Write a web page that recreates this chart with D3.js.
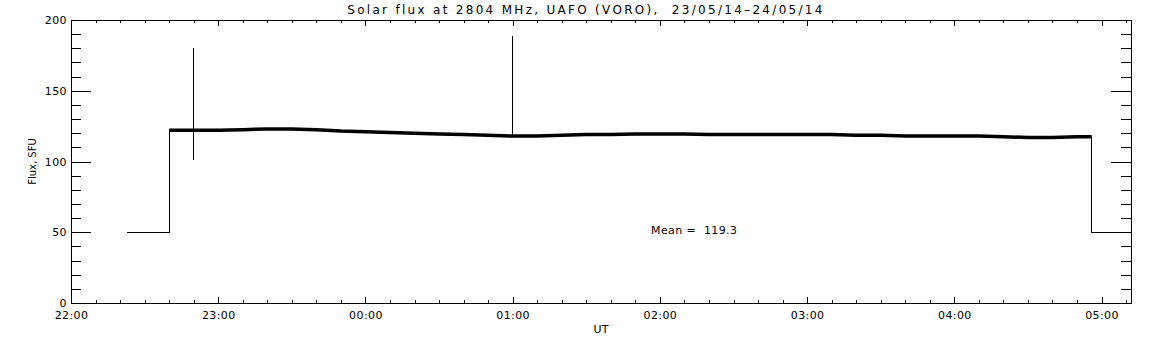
<!DOCTYPE html>
<html lang="en">
<head>
    <meta charset="UTF-8">
    <title>Solar flux at 2804 MHz</title>
    <script src="https://cdn.jsdelivr.net/npm/d3@7/dist/d3.min.js"></script>
    <style>
        body { margin: 0; background: #fff; }
        text { font-family: 'DejaVu Sans', sans-serif; font-size: 11px; fill: #000; white-space: pre; }
    </style>
</head>
<body>
<script type="application/javascript">
    // flux readings (SFU), every 10 min
    const times = ['22:40', '22:50', '23:00', '23:10', '23:20', '23:30', '23:40', '23:50',
        '00:00', '00:10', '00:20', '00:30', '00:40', '00:50', '01:00', '01:10', '01:20',
        '01:30', '01:40', '01:50', '02:00', '02:10', '02:20', '02:30', '02:40', '02:50',
        '03:00', '03:10', '03:20', '03:30', '03:40', '03:50', '04:00', '04:10', '04:20',
        '04:30', '04:40', '04:50', '04:56'];
    const flux = [122, 122, 122, 122.5, 123, 123, 122.5, 121.5,
        121, 120.5, 120, 119.5, 119, 118.5, 118, 118, 118.5,
        119, 119, 119.5, 119.5, 119.5, 119, 119, 119, 119,
        119, 119, 118.5, 118.5, 118, 118, 118, 118, 117.5,
        117, 117, 117.5, 117.5];
    // level outside the observing window
    const offTimes = ['22:23', '22:40', '04:56', '05:12'];
    const offLevel = 50;
    // short bursts
    const spikeTimes = ['22:50', '01:00'];
    const spikeLow = [101, 118];
    const spikeHigh = [180, 189];

    const xTickLabels = ['22:00', '23:00', '00:00', '01:00', '02:00', '03:00', '04:00', '05:00'];
    const yTicks = [0, 50, 100, 150, 200];
    const meanValue = 119.3;

    const w = 1152, h = 345;
    const margin = {left: 71, right: 21, top: 20, bottom: 42};

    // minutes after 22:00
    const toMin = s => {
        let [hh, mm] = s.split(':').map(Number);
        if (hh < 22) hh += 24;
        return (hh - 22) * 60 + mm;
    };

    const svg = d3.select('body').append('svg')
        .attr('width', w)
        .attr('height', h);

    const xScale = d3.scaleLinear()
        .domain([0, toMin('05:12')])
        .range([margin.left, w - margin.right]);
    const yScale = d3.scaleLinear()
        .domain([0, 200])
        .range([h - margin.bottom, margin.top]);

    const majorX = xTickLabels.map(toMin);
    const minorX = d3.range(0, toMin('05:12') + 1, 10).filter(m => m % 60 !== 0);
    const minorY = d3.range(0, 201, 10).filter(v => v % 50 !== 0);

    const fmt = m => xTickLabels[majorX.indexOf(m)];

    const g = svg.append('g').attr('shape-rendering', 'crispEdges');

    // bottom axis
    g.append('g')
        .attr('transform', `translate(0,${yScale(0)})`)
        .call(d3.axisBottom(xScale).tickValues(majorX).tickFormat(fmt).tickSize(-6).tickPadding(8))
        .call(a => a.select('.domain').remove());
    g.append('g')
        .attr('transform', `translate(0,${yScale(0)})`)
        .call(d3.axisBottom(xScale).tickValues(minorX).tickFormat('').tickSize(-3))
        .call(a => a.select('.domain').remove());
    // top axis
    g.append('g')
        .attr('transform', `translate(0,${yScale(200)})`)
        .call(d3.axisTop(xScale).tickValues(majorX).tickFormat('').tickSize(-6))
        .call(a => a.select('.domain').remove());
    g.append('g')
        .attr('transform', `translate(0,${yScale(200)})`)
        .call(d3.axisTop(xScale).tickValues(minorX).tickFormat('').tickSize(-3))
        .call(a => a.select('.domain').remove());
    // left axis
    g.append('g')
        .attr('transform', `translate(${xScale.range()[0]},0)`)
        .call(d3.axisLeft(yScale).tickValues(yTicks).tickSize(-20).tickPadding(4))
        .call(a => a.select('.domain').remove());
    g.append('g')
        .attr('transform', `translate(${xScale.range()[0]},0)`)
        .call(d3.axisLeft(yScale).tickValues(minorY).tickFormat('').tickSize(-10))
        .call(a => a.select('.domain').remove());
    // right axis
    g.append('g')
        .attr('transform', `translate(${xScale.range()[1]},0)`)
        .call(d3.axisRight(yScale).tickValues(yTicks).tickFormat('').tickSize(-20))
        .call(a => a.select('.domain').remove());
    g.append('g')
        .attr('transform', `translate(${xScale.range()[1]},0)`)
        .call(d3.axisRight(yScale).tickValues(minorY).tickFormat('').tickSize(-10))
        .call(a => a.select('.domain').remove());

    svg.selectAll('.tick text')
        .style('font-size', '11px')
        .style('font-family', 'DejaVu Sans, sans-serif')
        .style('letter-spacing', '0.4px');
    svg.selectAll('.tick line').attr('stroke', '#000');

    // frame
    g.append('rect')
        .attr('x', xScale.range()[0])
        .attr('y', yScale(200))
        .attr('width', xScale.range()[1] - xScale.range()[0])
        .attr('height', yScale(0) - yScale(200))
        .attr('fill', 'none')
        .attr('stroke', '#000');

    const line = d3.line()
        .x(d => xScale(d[0]))
        .y(d => yScale(d[1]));

    // off-window steps
    const offPts = [
        [toMin(offTimes[0]), offLevel], [toMin(offTimes[1]), offLevel], [toMin(offTimes[1]), flux[0]]
    ];
    const offPts2 = [
        [toMin(offTimes[2]), flux[flux.length - 1]], [toMin(offTimes[2]), offLevel], [toMin(offTimes[3]), offLevel]
    ];
    g.append('path').attr('d', line(offPts)).attr('fill', 'none').attr('stroke', '#000');
    g.append('path').attr('d', line(offPts2)).attr('fill', 'none').attr('stroke', '#000');

    // main trace (thick band for the noisy record)
    svg.append('path')
        .attr('d', line(times.map((t, i) => [toMin(t), flux[i]])))
        .attr('fill', 'none')
        .attr('stroke', '#000')
        .attr('stroke-width', 3.5)
        .attr('stroke-linejoin', 'round');

    // spikes
    g.selectAll('.spike')
        .data(spikeTimes)
        .enter()
        .append('line')
        .attr('class', 'spike')
        .attr('x1', d => xScale(toMin(d)))
        .attr('x2', d => xScale(toMin(d)))
        .attr('y1', (d, i) => yScale(spikeLow[i]))
        .attr('y2', (d, i) => yScale(spikeHigh[i]))
        .attr('stroke', '#000');

    // texts
    svg.append('text')
        .attr('x', 586).attr('y', 14)
        .attr('text-anchor', 'middle')
        .style('font-size', '12px')
        .style('letter-spacing', '2.3px')
        .text('Solar flux at 2804 MHz, UAFO (VORO),  23/05/14\u201324/05/14');
    svg.append('text')
        .attr('transform', `translate(36,${(yScale(0) + yScale(200)) / 2}) rotate(-90)`)
        .attr('text-anchor', 'middle')
        .style('font-size', '10px')
        .text('Flux, SFU');
    svg.append('text')
        .attr('x', (xScale.range()[0] + xScale.range()[1]) / 2).attr('y', 333)
        .attr('text-anchor', 'middle')
        .text('UT');
    svg.append('text')
        .attr('x', 651).attr('y', 234)
        .style('letter-spacing', '0.4px')
        .text('Mean =  ' + meanValue.toFixed(1));
</script>
</body>
</html>
